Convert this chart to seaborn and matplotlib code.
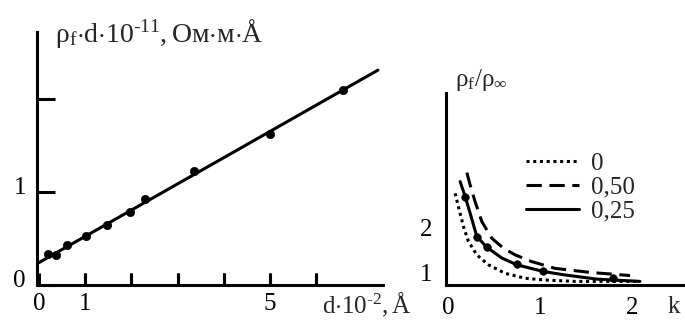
import numpy as np
import pandas as pd
import matplotlib
matplotlib.use("Agg")
import matplotlib.pyplot as plt
import matplotlib.transforms as mtransforms
import seaborn as sns

sns.set_style("ticks")
plt.rcParams["font.family"] = ["Liberation Serif", "DejaVu Serif"]
plt.rcParams["mathtext.fontset"] = "custom"
plt.rcParams["mathtext.rm"] = "Liberation Serif"
plt.rcParams["mathtext.it"] = "Liberation Serif"
plt.rcParams["mathtext.default"] = "rm"

# ---- left panel: rho_f * d versus d ----
d_pts = [0.20, 0.37, 0.60, 1.02, 1.47, 1.97, 2.30, 3.36, 5.00, 6.57]
rho_d_pts = [0.33, 0.32, 0.43, 0.53, 0.64, 0.79, 0.92, 1.23, 1.62, 2.10]
fit_d = [0.0, 7.33]
fit_rho_d = [0.24, 2.31]
d_ticks = [0, 1, 2, 3, 4, 5, 6]
d_ticklabels = ["0", "1", "", "", "", "5", ""]

# ---- right panel: rho_f / rho_inf versus k ----
k_dot = [0.079, 0.115, 0.170, 0.224, 0.315, 0.441, 0.623, 0.840, 1.058, 1.384, 1.764, 2.05]
r_dot = [2.77, 2.47, 2.03, 1.70, 1.40, 1.18, 0.99, 0.88, 0.84, 0.81, 0.81, 0.81]
k_dash = [0.207, 0.242, 0.297, 0.370, 0.478, 0.604, 0.732, 0.913, 1.166, 1.547, 1.982]
r_dash = [3.23, 2.96, 2.58, 2.14, 1.77, 1.55, 1.40, 1.25, 1.10, 1.01, 0.94]
k_solid = [0.134, 0.188, 0.242, 0.315, 0.424, 0.587, 0.750, 1.039, 1.253, 1.623, 2.09]
r_solid = [3.03, 2.70, 2.33, 1.81, 1.57, 1.33, 1.18, 1.03, 0.96, 0.86, 0.81]
k_marks = [0.188, 0.318, 0.427, 0.753, 1.04, 1.80]
r_marks = [2.69, 1.80, 1.58, 1.20, 1.04, 0.88]
legend_labels = ["0", "0,50", "0,25"]

W, H = 685, 325
rect1 = [37 / W, 40 / H, (383 - 37) / W, (285 - 32) / H]
fig = plt.figure(figsize=(W / 100, H / 100), dpi=100)
ax1 = fig.add_axes(rect1)
ax2 = fig.add_axes([446 / W, 40 / H, (685 - 446) / W, (285 - 93) / H])

lw = 2.2

# left
sns.lineplot(x=fit_d, y=fit_rho_d, ax=ax1, color="black", lw=lw)
sns.scatterplot(x=d_pts, y=rho_d_pts, ax=ax1, color="black", s=36, edgecolor="black", zorder=3)
ax1.set_xlim(-0.04, 7.44)
ax1.set_ylim(0, 2.72)
ax1.set_xticks(d_ticks, d_ticklabels)
ax1.set_yticks([0, 1, 2], ["0", "1", ""])

# right
sns.lineplot(x=k_dot, y=r_dot, ax=ax2, color="black", lw=lw, dashes=(1, 1.2), label=legend_labels[0])
sns.lineplot(x=k_dash, y=r_dash, ax=ax2, color="black", lw=lw, dashes=(5, 2.5), label=legend_labels[1])
sns.lineplot(x=k_solid, y=r_solid, ax=ax2, color="black", lw=lw, label=legend_labels[2])
sns.scatterplot(x=k_marks, y=r_marks, ax=ax2, color="black", s=30, edgecolor="black", zorder=3)
ax2.set_xlim(-0.02, 2.58)
ax2.set_ylim(0.73, 5.0)
ax2.set_xticks([0, 1, 2])
ax2.set_yticks([1, 2])
ax2.legend(loc="upper left", bbox_to_anchor=(0.335, 0.69), frameon=False, fontsize=18,
           handlelength=2.1, handletextpad=0.5, labelspacing=0.05, borderpad=0, borderaxespad=0)

for ax in (ax1, ax2):
    for side in ("top", "right"):
        ax.spines[side].set_visible(False)
    for side in ("left", "bottom"):
        ax.spines[side].set_linewidth(lw)
        ax.spines[side].set_color("black")
    ax.set_xlabel("")
    ax.set_ylabel("")

# tick styling
ax1.tick_params(axis="x", bottom=True, top=False, direction="in", length=9, width=lw, pad=6,
                labelsize=18, color="black", labelcolor="black")
ax1.tick_params(axis="y", left=True, right=False, direction="in", length=13, width=lw, pad=8,
                labelsize=18, color="black", labelcolor="black")
ax2.tick_params(axis="both", length=0, labelsize=18, labelcolor="black")
ax2.tick_params(axis="x", pad=9)
ax2.tick_params(axis="y", pad=10)
for lab in ax1.get_yticklabels():
    lab.set_transform(lab.get_transform() + mtransforms.ScaledTranslation(0, 5 / 72, fig.dpi_scale_trans))

# overlay axes drawn on top, carrying only the inward d-axis tick marks
ax_t = fig.add_axes(rect1, zorder=10)
ax_t.set_xlim(ax1.get_xlim())
ax_t.set_ylim(ax1.get_ylim())
ax_t.patch.set_visible(False)
for side in ("top", "right", "left", "bottom"):
    ax_t.spines[side].set_visible(False)
ax_t.set_xticks(d_ticks[1:])
ax_t.set_yticks([])
ax_t.tick_params(axis="x", bottom=True, top=False, direction="in", length=9, width=lw,
                 color="black", labelbottom=False)

fig.text(55 / W, 1 - 42 / H, r"$\rho_{\mathrm{f}}{\cdot}\mathrm{d}{\cdot}10^{\text{-}11}\mathrm{,Ом{\cdot}м{\cdot}Å}$",
         fontsize=20, va="baseline", ha="left")
fig.text(455 / W, 1 - 86 / H, r"$\rho_{\mathrm{f}}/\rho_{\infty}$", fontsize=18, va="baseline", ha="left")
fig.text(322 / W, 1 - 313 / H, r"$\mathrm{d{\cdot}10^{\text{-}2},Å}$", fontsize=18, va="baseline", ha="left")
fig.text(668 / W, 1 - 313 / H, "k", fontsize=18, va="baseline", ha="left")

fig.savefig("out.png", dpi=100, facecolor="white")
